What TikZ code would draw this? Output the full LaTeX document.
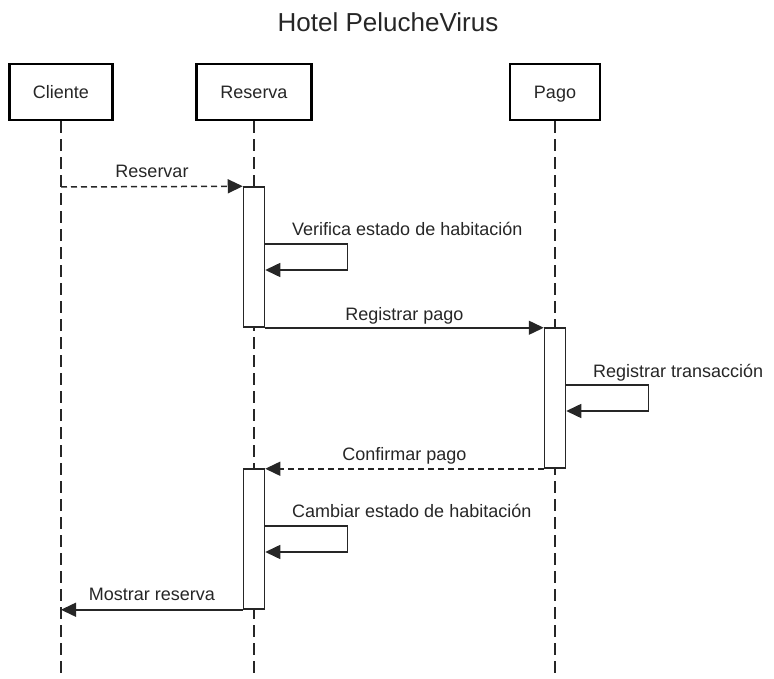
\documentclass[tikz,border=0pt]{standalone}
\usepackage{fontspec}
\setmainfont{Liberation Sans}
\usetikzlibrary{arrows.meta,calc}
\begin{document}
\begin{tikzpicture}[x=1pt,y=-1pt,
  lifebox/.style={draw=black, line width=2.5pt, fill=white, minimum height=56pt,
    inner sep=0pt, text=black!85, text height=13pt, text depth=0pt,
    font=\fontsize{18}{20}\selectfont},
  actbox/.style={draw=black!85, line width=1.5pt, fill=white, minimum width=21pt,
    minimum height=140pt, inner sep=0pt},
  lifeline/.style={draw=black!85, line width=1.5pt, dash pattern=on 12pt off 6pt},
  msg/.style={draw=black!85, line width=1.5pt, -{Triangle[length=15pt,width=14pt]}},
  msgd/.style={msg, dash pattern=on 6pt off 4pt},
  lbl/.style={inner sep=0pt, text=black!85, font=\fontsize{18}{20}\selectfont},
  titlelbl/.style={inner sep=0pt, text=black!85, font=\fontsize{26}{30}\selectfont}]
\useasboundingbox (0,0) rectangle (774,679);
\coordinate (bot) at (0,679);
% title
\node[titlelbl, anchor=base] (title) at (388,32) {Hotel PelucheVirus};
% participants
\node[lifebox, minimum width=103pt] (cl) at (61,92) {Cliente};
\node[lifebox, minimum width=115pt] (re) at (254,92) {Reserva};
\node[lifebox, minimum width=90pt] (pa) at (555,92) {Pago};
% lifelines
\draw[lifeline] (cl.south) -- (cl.south |- bot);
\draw[lifeline] (re.south) -- (re.south |- bot);
\draw[lifeline] (pa.south) -- (pa.south |- bot);
% activations
\node[actbox] (a1) at (254,257) {};
\node[actbox] (a2) at (555,398) {};
\node[actbox] (a3) at (254,539) {};
% messages
\coordinate (c1) at (61,187);
\draw[msgd] (c1) -- (a1.north west);
\node[lbl, anchor=base] (t1) at (152,178) {Reservar};

\draw[msg] ([yshift=13pt]a1.east) -- ++(82,0) -- ++(0,26) -- ([yshift=-13pt]a1.east);
\node[lbl, anchor=base west] (t2) at (292,236) {Verifica estado de habitación};

\draw[msg] (a1.south east) -- (a1.south east -| a2.west);
\node[lbl, anchor=base] (t3) at (404.5,320) {Registrar pago};

\draw[msg] ([yshift=13pt]a2.east) -- ++(82,0) -- ++(0,26) -- ([yshift=-13pt]a2.east);
\node[lbl, anchor=base west] (t4) at (593,377) {Registrar transacción};

\draw[msgd] (a2.south west) -- (a2.south west -| a3.east);
\node[lbl, anchor=base] (t5) at (404.5,460) {Confirmar pago};

\draw[msg] ([yshift=13pt]a3.east) -- ++(82,0) -- ++(0,26) -- ([yshift=-13pt]a3.east);
\node[lbl, anchor=base west] (t6) at (292,517) {Cambiar estado de habitación};

\draw[msg] (a3.south west) -- (a3.south west -| c1);
\node[lbl, anchor=base] (t7) at (152,600.5) {Mostrar reserva};
\end{tikzpicture}
\end{document}
